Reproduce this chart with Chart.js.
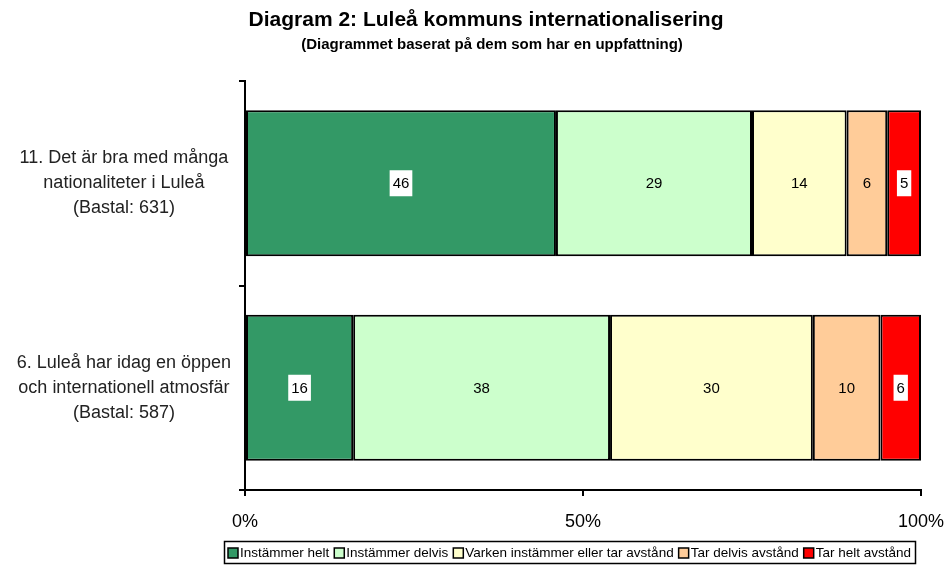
<!DOCTYPE html>
<html>
<head>
<meta charset="utf-8">
<script src="https://cdn.jsdelivr.net/npm/chart.js@4/dist/chart.umd.min.js"></script>
<style>
    html, body { margin: 0; padding: 0; background: #fff; }
    #wrap { width: 948px; height: 567px; }
</style>
</head>
<body>
<div id="wrap"><canvas id="chart" width="948" height="567"></canvas></div>
<script>
const categories = [
    ["11. Det är bra med många", "nationaliteter i Luleå", "(Bastal: 631)"],
    ["6. Luleå har idag en öppen", "och internationell atmosfär", "(Bastal: 587)"]
];
const seriesNames = ["Instämmer helt", "Instämmer delvis", "Varken instämmer eller tar avstånd", "Tar delvis avstånd", "Tar helt avstånd"];
const instammerHelt = [46, 16];
const instammerDelvis = [29, 38];
const varken = [14, 30];
const tarDelvis = [6, 10];
const tarHelt = [5, 6];
const xTicks = [0, 50, 100];

const colors = ["#339966", "#CCFFCC", "#FFFFCC", "#FFCC99", "#FF0000"];
const boxedLabels = [true, false, false, false, true];
const FONT = "'Liberation Sans', Arial, sans-serif";

const seriesValues = [instammerHelt, instammerDelvis, varken, tarDelvis, tarHelt];

const titlePlugin = {
    id: "titles",
    afterDraw(chart) {
        const ctx = chart.ctx;
        ctx.save();
        ctx.fillStyle = "#000";
        ctx.textAlign = "center";
        ctx.textBaseline = "middle";
        ctx.font = "bold 21px " + FONT;
        ctx.fillText("Diagram 2: Luleå kommuns internationalisering", 486, 20);
        ctx.font = "bold 15px " + FONT;
        ctx.fillText("(Diagrammet baserat på dem som har en uppfattning)", 492, 45);
        ctx.restore();
    }
};

const valueLabels = {
    id: "valueLabels",
    afterDatasetsDraw(chart) {
        const ctx = chart.ctx;
        ctx.save();
        ctx.font = "15px " + FONT;
        ctx.textAlign = "center";
        ctx.textBaseline = "middle";
        chart.data.datasets.forEach((ds, i) => {
            chart.getDatasetMeta(i).data.forEach((bar, j) => {
                const text = String(Math.round(ds.data[j]));
                const x = (bar.x + bar.base) / 2;
                const y = bar.y;
                if (boxedLabels[i]) {
                    const w = ctx.measureText(text).width + 6;
                    ctx.fillStyle = "#fff";
                    ctx.fillRect(x - w / 2, y - 13, w, 26);
                }
                ctx.fillStyle = "#000";
                ctx.fillText(text, x, y + 1);
            });
        });
        ctx.restore();
    }
};

const boxLegend = {
    id: "boxLegend",
    afterDraw(chart) {
        const ctx = chart.ctx;
        ctx.save();
        ctx.font = "13.5px " + FONT;
        ctx.textBaseline = "middle";
        const box = 10, gapText = 2, gapItem = 5;
        const widths = seriesNames.map(n => box + gapText + ctx.measureText(n).width);
        const total = widths.reduce((a, b) => a + b, 0) + gapItem * (widths.length - 1);
        const top = 541, height = 22;
        let x = 569.5 - total / 2;
        ctx.strokeStyle = "#000";
        ctx.lineWidth = 1.5;
        ctx.strokeRect(Math.round(x - 4) + 0.5, top + 0.5, Math.round(total + 8), height);
        const cy = top + height / 2 + 1;
        seriesNames.forEach((n, i) => {
            ctx.fillStyle = colors[i];
            ctx.fillRect(x, cy - box / 2, box, box);
            ctx.lineWidth = 1.5;
            ctx.strokeRect(x, cy - box / 2, box, box);
            ctx.fillStyle = "#000";
            ctx.fillText(n, x + box + gapText, cy);
            x += widths[i] + gapItem;
        });
        ctx.restore();
    }
};

new Chart(document.getElementById("chart"), {
    type: "bar",
    data: {
        labels: categories,
        datasets: seriesNames.map((name, i) => ({
            label: name,
            data: seriesValues[i],
            backgroundColor: colors[i],
            borderColor: "#000",
            borderWidth: 2,
            borderSkipped: false,
            barPercentage: 0.714,
            categoryPercentage: 1
        }))
    },
    options: {
        indexAxis: "y",
        responsive: false,
        animation: false,
        layout: { padding: { top: 81, right: 27, left: 0, bottom: 0 } },
        plugins: {
            legend: { display: false },
            tooltip: { enabled: false }
        },
        scales: {
            x: {
                stacked: true,
                min: 0,
                max: 100,
                afterBuildTicks: s => { s.ticks = xTicks.map(v => ({ value: v })); },
                ticks: {
                    callback: v => v + "%",
                    color: "#000",
                    padding: 15,
                    maxRotation: 0,
                    font: { family: FONT, size: 18 }
                },
                grid: { drawOnChartArea: false, drawTicks: true, tickLength: 6, color: "#000", lineWidth: 2 },
                border: { color: "#000", width: 2 },
                afterFit: s => { s.height = 77; s.paddingLeft = 0; s.paddingRight = 0; }
            },
            y: {
                stacked: true,
                offset: true,
                ticks: {
                    crossAlign: "center",
                    color: "#222",
                    padding: 8,
                    font: { family: FONT, size: 18, lineHeight: "25px" }
                },
                grid: { drawOnChartArea: false, drawTicks: true, tickLength: 6, offset: true, color: "#000", lineWidth: 2 },
                border: { color: "#000", width: 2 },
                afterFit: s => { s.width = 245; }
            }
        }
    },
    plugins: [titlePlugin, valueLabels, boxLegend]
});
</script>
</body>
</html>
